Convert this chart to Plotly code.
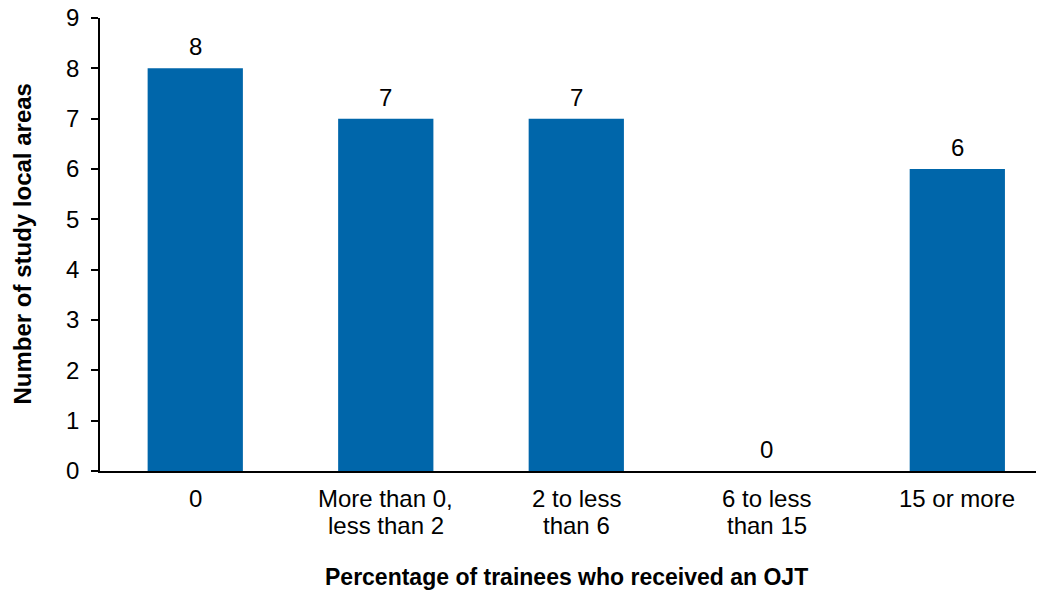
import plotly.graph_objects as go

categories = ["0", "More than 0, less than 2", "2 to less than 6", "6 to less than 15", "15 or more"]
tick_lines = [["0"], ["More than 0,", "less than 2"], ["2 to less", "than 6"], ["6 to less", "than 15"], ["15 or more"]]
values = [8, 7, 7, 0, 6]
y_ticks = [0, 1, 2, 3, 4, 5, 6, 7, 8, 9]
x_title = "Percentage of trainees who received an OJT"
y_title = "Number of study local areas"

FONT = "Liberation Sans, Arial, sans-serif"
BAR = "#0066AA"
FS = 24

fig = go.Figure()
fig.add_trace(go.Bar(
    x=categories, y=values,
    marker=dict(color=BAR, line=dict(width=0)),
    width=0.5,
    hoverinfo="skip",
))

for c, v in zip(categories, values):
    fig.add_annotation(
        x=c, y=v, text=str(v), showarrow=False,
        yanchor="bottom", yshift=6,
        font=dict(family=FONT, size=FS, color="#000000"),
    )

# category tick labels, one annotation per line for tighter line spacing
for c, lines in zip(categories, tick_lines):
    for i, line in enumerate(lines):
        fig.add_annotation(
            x=c, xref="x", yref="paper", y=0, yshift=-27 - 27 * i,
            xanchor="center", yanchor="middle", showarrow=False,
            text=line,
            font=dict(family=FONT, size=FS, color="#000000"),
        )

fig.add_annotation(
    xref="paper", yref="paper", x=0.4947, y=0, yshift=-106,
    xanchor="center", yanchor="middle", showarrow=False,
    text="<b>" + x_title + "</b>",
    font=dict(family=FONT, size=23, color="#000000"),
)
fig.add_annotation(
    xref="paper", yref="paper", x=0, y=0.5, xshift=-78,
    xanchor="center", yanchor="middle", showarrow=False, textangle=-90,
    text="<b>" + y_title + "</b>",
    font=dict(family=FONT, size=24, color="#000000"),
)

fig.update_layout(
    width=1036, height=582,
    margin=dict(l=92, r=0, t=10, b=119),
    plot_bgcolor="white", paper_bgcolor="white",
    showlegend=False,
    font=dict(family=FONT, size=FS, color="#000000"),
    xaxis=dict(
        type="category",
        range=[-0.5, 4.455],
        showline=True, linecolor="#000000", linewidth=1.5,
        ticks="", showgrid=False, zeroline=False,
        automargin=False, showticklabels=False,
    ),
    yaxis=dict(
        range=[0, 9],
        tickvals=y_ticks,
        showline=True, linecolor="#000000", linewidth=1.5,
        ticks="outside", ticklen=7, tickwidth=1.5, tickcolor="#000000",
        showgrid=False, zeroline=False,
        automargin=False, ticklabelstandoff=7, ticklabeloverflow="allow",
        tickfont=dict(family=FONT, size=FS, color="#000000"),
    ),
)

fig.write_html("out.html")
